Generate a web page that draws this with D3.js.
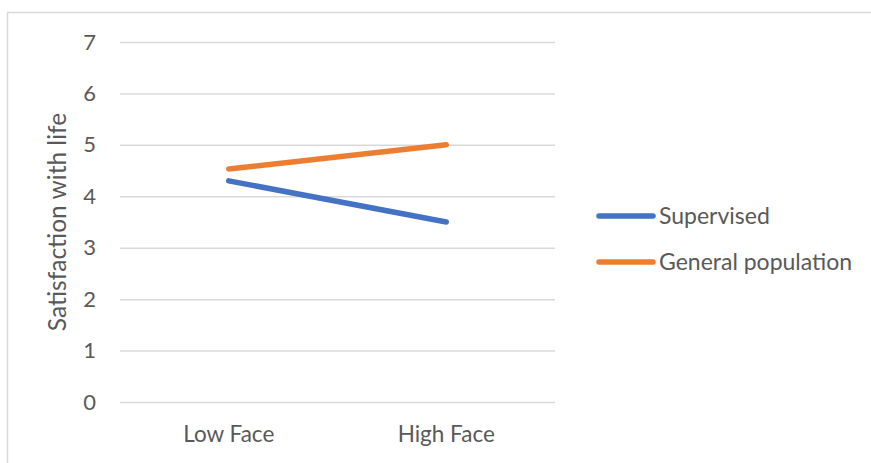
<!DOCTYPE html>
<html>
<head>
<meta charset="utf-8">
<script src="https://cdn.jsdelivr.net/npm/d3@7"></script>
<style>
  html, body { margin: 0; padding: 0; background: #ffffff; }
  svg { display: block; }
  text { font-family: Lato, "Open Sans", sans-serif; fill: #595959; }
</style>
</head>
<body>
<svg id="chart" width="871" height="463"></svg>
<script>
// Chart data
const categories = ["Low Face", "High Face"];
const supervised = [4.3, 3.5];
const generalPopulation = [4.53, 5.0];
const seriesNames = ["Supervised", "General population"];
const yTicks = [0, 1, 2, 3, 4, 5, 6, 7];
const yTitle = "Satisfaction with life";

const colors = ["#4472C4", "#ED7D31"];
const series = [
  { name: seriesNames[0], values: supervised, color: colors[0] },
  { name: seriesNames[1], values: generalPopulation, color: colors[1] }
];

const svg = d3.select("#chart");

// Outer chart frame
svg.append("rect")
  .attr("x", 7.5).attr("y", 12.5)
  .attr("width", 900).attr("height", 500)
  .attr("fill", "none").attr("stroke", "#d9d9d9").attr("stroke-width", 1.5);

const plot = { left: 120, right: 555, top: 42, bottom: 402 };

const x = d3.scaleBand().domain(categories).range([plot.left, plot.right]);
const y = d3.scaleLinear().domain([0, 7]).range([plot.bottom, plot.top]);

// Horizontal gridlines and value labels
const yAxis = d3.axisLeft(y).tickValues(yTicks).tickFormat(d3.format("d"))
  .tickSize(-(plot.right - plot.left)).tickPadding(24);
const gy = svg.append("g").attr("transform", `translate(${plot.left},0)`).call(yAxis);
gy.select(".domain").remove();
gy.selectAll(".tick line").attr("stroke", "#d9d9d9").attr("stroke-width", 1.5);
gy.selectAll(".tick text").attr("font-size", 22).attr("fill", "#595959")
  .style("font-family", "Lato, 'Open Sans', sans-serif");

// Category labels
const xAxis = d3.axisBottom(x).tickSize(0).tickPadding(24);
const gx = svg.append("g").attr("transform", `translate(0,${plot.bottom})`).call(xAxis);
gx.select(".domain").remove();
gx.selectAll(".tick text").attr("font-size", 22.5).attr("fill", "#595959")
  .style("font-family", "Lato, 'Open Sans', sans-serif");

// Axis title
svg.append("text")
  .attr("transform", `translate(66,222) rotate(-90)`)
  .attr("text-anchor", "middle")
  .attr("font-size", 24.5)
  .text(yTitle);

// Series lines
const line = d3.line()
  .x((d, i) => x(categories[i]) + x.bandwidth() / 2)
  .y(d => y(d));

svg.selectAll("path.series")
  .data(series)
  .join("path")
  .attr("class", "series")
  .attr("d", d => line(d.values))
  .attr("fill", "none")
  .attr("stroke", d => d.color)
  .attr("stroke-width", 5.5)
  .attr("stroke-linecap", "round");

// Legend
const legend = svg.append("g").attr("transform", "translate(599,216)");
const item = legend.selectAll("g")
  .data(series)
  .join("g")
  .attr("transform", (d, i) => `translate(0,${i * 46})`);
item.append("line")
  .attr("x1", 0).attr("x2", 54)
  .attr("stroke", d => d.color)
  .attr("stroke-width", 5.5)
  .attr("stroke-linecap", "round");
item.append("text")
  .attr("x", 60).attr("dy", "0.35em")
  .attr("font-size", 23)
  .text(d => d.name);
</script>
</body>
</html>
